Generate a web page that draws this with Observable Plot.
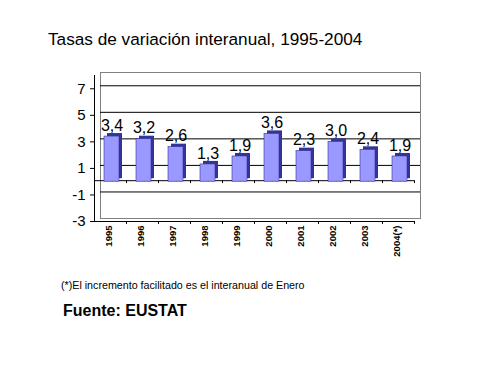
<!DOCTYPE html>
<html>
<head>
<meta charset="utf-8">
<script src="https://cdn.jsdelivr.net/npm/d3@7"></script>
<script src="https://cdn.jsdelivr.net/npm/@observablehq/plot@0.6"></script>
<style>
  html, body { margin: 0; padding: 0; background: #fff; }
  body { width: 487px; height: 387px; position: relative; overflow: hidden;
         font-family: "Liberation Sans", Arial, sans-serif; }
  #chart { position: absolute; left: 0; top: 0; }
  .txt { position: absolute; white-space: nowrap; line-height: 1; color: #000; }
  #title { left: 48px; top: 31px; font-size: 17.2px; }
  #note { left: 61px; top: 280px; font-size: 10.7px; }
  #source { left: 63px; top: 303px; font-size: 16px; font-weight: bold; }
</style>
</head>
<body>
<div id="chart"></div>
<div class="txt" id="title">Tasas de variación interanual, 1995-2004</div>
<div class="txt" id="note">(*)El incremento facilitado es el interanual de Enero</div>
<div class="txt" id="source">Fuente: EUSTAT</div>
<script>
const years = ["1995", "1996", "1997", "1998", "1999", "2000", "2001", "2002", "2003", "2004(*)"];
const values = [3.4, 3.2, 2.6, 1.3, 1.9, 3.6, 2.3, 3.0, 2.4, 1.9];
const yTicks = [-3, -1, 1, 3, 5, 7];
const gridValues = [7, 5, 3, 1, -1];

const data = years.map((year, i) => ({year, value: values[i]}));
const fmt = v => v.toFixed(1).replace(".", ",");

const chart = Plot.plot({
  width: 487,
  height: 387,
  marginLeft: 94,
  marginRight: 73,
  marginTop: 75,
  marginBottom: 166,
  style: {fontFamily: "'Liberation Sans', Arial, sans-serif", background: "#fff", color: "#000"},
  x: {type: "band", domain: years, padding: 0, axis: null},
  y: {domain: [-3, 8], axis: null},
  marks: [
    // back wall
    Plot.frame({stroke: "#808080", dx: 6, dy: -3}),
    Plot.ruleY(gridValues, {stroke: "#000", dx: 6, dy: -3, strokeWidth: 1}),
    // zero line
    Plot.ruleY([0], {stroke: "#000", dy: -1, strokeWidth: 1}),
    Plot.ruleX(years, {x: d => d, y1: 0, y2: -0.22, dx: 16, dy: -1, stroke: "#000"}),
    // front axes
    Plot.frame({anchor: "left", stroke: "#000"}),
    Plot.frame({anchor: "bottom", stroke: "#000"}),
    Plot.ruleX(years, {x: d => d, y1: -3, y2: -3.22, dx: 16, stroke: "#000"}),
    Plot.axisY({ticks: yTicks, tickSize: 4, tickPadding: 5, fontSize: 15, label: null, tickFormat: d => String(d)}),
    Plot.axisX({tickSize: 0, tickRotate: -90, tickPadding: 4, fontSize: 9.5, fontWeight: "bold", dx: -2, label: null}),
    // bars (3D look)
    Plot.barY(data, {x: "year", y: "value", fill: "#333399", insetLeft: 13, insetRight: 4, dy: -3}),
    Plot.barY(data, {x: "year", y: "value", fill: "#9999ff", stroke: "#333399", strokeWidth: 0.6, insetLeft: 10, insetRight: 7}),
    // value labels
    Plot.text(data, {x: "year", y: "value", text: d => fmt(d.value), dy: -11, dx: 1.5, fontSize: 16})
  ]
});
document.getElementById("chart").appendChild(chart);
</script>
</body>
</html>
